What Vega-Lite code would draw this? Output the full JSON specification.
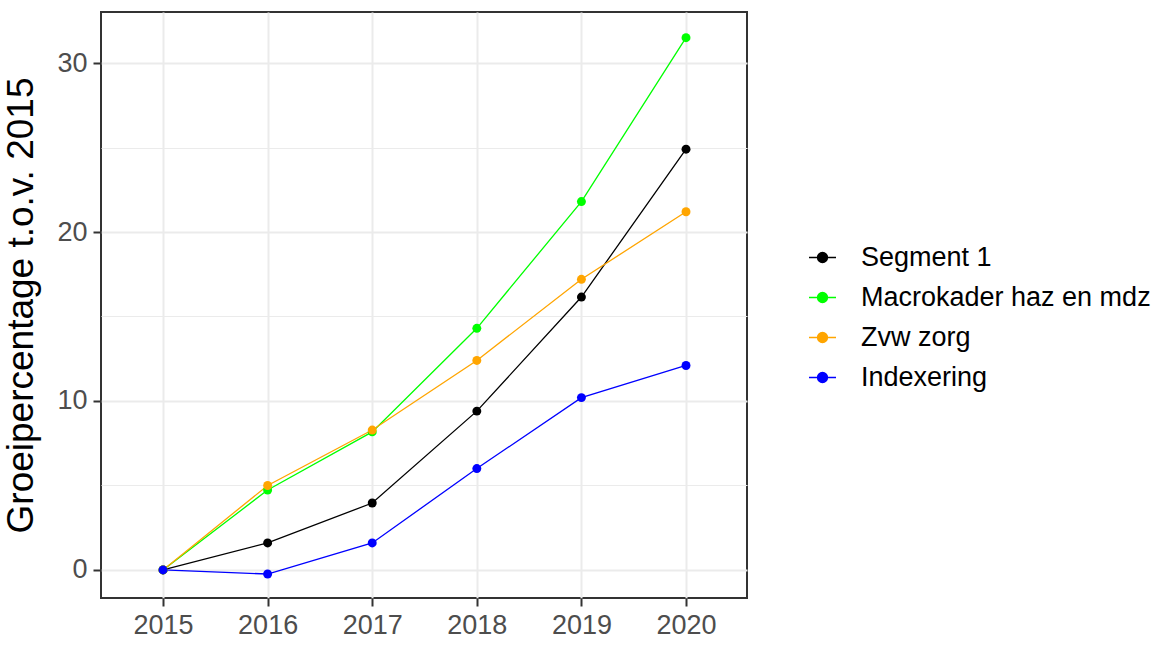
{
  "$schema": "https://vega.github.io/schema/vega-lite/v6.json",
  "width": 646,
  "height": 586,
  "autosize": {"type": "none"},
  "padding": {"left": 101, "top": 12, "right": 426, "bottom": 48},
  "background": "white",
  "config": {
    "font": "Liberation Sans",
    "view": {"stroke": "#333333", "strokeWidth": 2}
  },
  "data": {
    "values": [
      {"reeks": "Segment 1", "jaar": 2015, "waarde": 0},
      {"reeks": "Segment 1", "jaar": 2016, "waarde": 1.6},
      {"reeks": "Segment 1", "jaar": 2017, "waarde": 3.96},
      {"reeks": "Segment 1", "jaar": 2018, "waarde": 9.4},
      {"reeks": "Segment 1", "jaar": 2019, "waarde": 16.15},
      {"reeks": "Segment 1", "jaar": 2020, "waarde": 24.9},
      {"reeks": "Macrokader haz en mdz", "jaar": 2015, "waarde": 0},
      {"reeks": "Macrokader haz en mdz", "jaar": 2016, "waarde": 4.73},
      {"reeks": "Macrokader haz en mdz", "jaar": 2017, "waarde": 8.17},
      {"reeks": "Macrokader haz en mdz", "jaar": 2018, "waarde": 14.3},
      {"reeks": "Macrokader haz en mdz", "jaar": 2019, "waarde": 21.8},
      {"reeks": "Macrokader haz en mdz", "jaar": 2020, "waarde": 31.5},
      {"reeks": "Zvw zorg", "jaar": 2015, "waarde": 0},
      {"reeks": "Zvw zorg", "jaar": 2016, "waarde": 5.0},
      {"reeks": "Zvw zorg", "jaar": 2017, "waarde": 8.28},
      {"reeks": "Zvw zorg", "jaar": 2018, "waarde": 12.4},
      {"reeks": "Zvw zorg", "jaar": 2019, "waarde": 17.2},
      {"reeks": "Zvw zorg", "jaar": 2020, "waarde": 21.2},
      {"reeks": "Indexering", "jaar": 2015, "waarde": 0},
      {"reeks": "Indexering", "jaar": 2016, "waarde": -0.24},
      {"reeks": "Indexering", "jaar": 2017, "waarde": 1.6},
      {"reeks": "Indexering", "jaar": 2018, "waarde": 6.0},
      {"reeks": "Indexering", "jaar": 2019, "waarde": 10.2},
      {"reeks": "Indexering", "jaar": 2020, "waarde": 12.1}
    ]
  },
  "layer": [
    {
      "mark": {"type": "line", "strokeWidth": 1.3},
      "encoding": {
        "x": {
          "field": "jaar", "type": "quantitative",
          "scale": {"domain": [2014.407, 2020.583], "nice": false, "zero": false},
          "axis": {
            "values": [2015, 2016, 2017, 2018, 2019, 2020], "format": "d", "title": null,
            "grid": true, "gridColor": "#EBEBEB", "gridWidth": 2,
            "domain": false, "tickColor": "#333333", "tickSize": 8, "tickWidth": 2,
            "labelFontSize": 27, "labelColor": "#4D4D4D", "labelPadding": 6
          }
        },
        "y": {
          "field": "waarde", "type": "quantitative",
          "scale": {"domain": [-1.66, 33.02], "nice": false, "zero": false},
          "axis": {
            "values": [0, 10, 20, 30], "title": "Groeipercentage t.o.v. 2015",
            "titleFontSize": 37, "titleFontWeight": "normal", "titleColor": "#000000", "titlePadding": 16,
            "grid": true, "gridColor": "#EBEBEB", "gridWidth": 2,
            "domain": false, "tickColor": "#333333", "tickSize": 8, "tickWidth": 2,
            "labelFontSize": 27, "labelColor": "#4D4D4D", "labelPadding": 6
          }
        },
        "color": {
          "field": "reeks", "type": "nominal",
          "scale": {"domain": ["Segment 1", "Macrokader haz en mdz", "Zvw zorg", "Indexering"],
                    "range": ["#000000", "#00FF00", "#FFA500", "#0000FF"]},
          "legend": {
            "title": null, "orient": "none", "legendX": 707, "legendY": 231, "padding": 0,
            "symbolType": "M-1,0L1,0M0.37,0A0.37,0.37,0,1,1,-0.37,0A0.37,0.37,0,1,1,0.37,0Z",
            "symbolSize": 729, "symbolStrokeWidth": 1.3, "labelFontSize": 27, "labelColor": "#000000",
            "labelOffset": 24, "rowPadding": 12, "labelLimit": 500,
            "encode": {"symbols": {"update": {"stroke": {"scale": "color", "field": "value"}, "fill": {"scale": "color", "field": "value"}, "opacity": {"value": 1}}}}
          }
        }
      }
    },
    {
      "mark": {"type": "point", "filled": true, "size": 80, "opacity": 1},
      "encoding": {
        "x": {"field": "jaar", "type": "quantitative"},
        "y": {
          "field": "waarde", "type": "quantitative",
          "axis": {
            "values": [5, 15, 25], "title": null, "labels": false, "ticks": false, "domain": false,
            "grid": true, "gridColor": "#EBEBEB", "gridWidth": 1
          }
        },
        "color": {
          "field": "reeks", "type": "nominal"
        }
      }
    }
  ],
  "resolve": {"axis": {"y": "independent"}}
}
